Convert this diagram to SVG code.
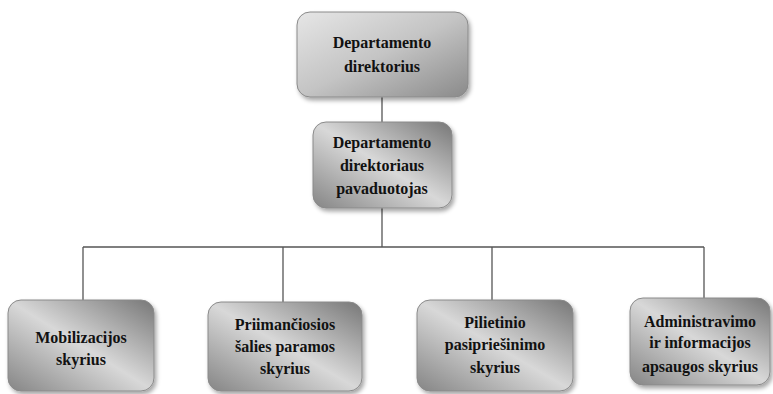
<svg xmlns="http://www.w3.org/2000/svg" width="773" height="394" viewBox="0 0 773 394">
<defs>
<linearGradient id="gTop" x1="0" y1="0" x2="1" y2="1">
<stop offset="0" stop-color="#e6e6e6"/>
<stop offset="0.5" stop-color="#c4c4c4"/>
<stop offset="1" stop-color="#8a8a8a"/>
</linearGradient>
<linearGradient id="gBox" x1="0" y1="1" x2="1" y2="0">
<stop offset="0" stop-color="#858585"/>
<stop offset="0.5" stop-color="#d8d8d8"/>
<stop offset="1" stop-color="#777"/>
</linearGradient>
<filter id="sh" x="-10%" y="-10%" width="125%" height="130%">
<feDropShadow dx="2" dy="3" stdDeviation="2" flood-color="#000" flood-opacity="0.35"/>
</filter>
</defs>
<style>
.box{stroke:#8a8a8a;stroke-width:1;filter:url(#sh)}
.t{font-family:"Liberation Serif","Times New Roman",serif;font-weight:bold;font-size:16px;fill:#111;text-anchor:middle}
.c{stroke:#555;stroke-width:1.3;fill:none}
</style>
<g id="connectors">
<line class="c" x1="382" y1="97" x2="382" y2="122"/>
<line class="c" x1="382" y1="208" x2="382" y2="247"/>
<line class="c" x1="83" y1="247" x2="704" y2="247"/>
<line class="c" x1="83" y1="247" x2="83" y2="300"/>
<line class="c" x1="283" y1="247" x2="283" y2="302"/>
<line class="c" x1="492" y1="247" x2="492" y2="300"/>
<line class="c" x1="704" y1="247" x2="704" y2="298"/>
</g>
<g id="n1">
<rect class="box" x="297" y="12" width="171" height="85" rx="13" fill="url(#gTop)"/>
<text class="t" x="382" y="48">Departamento</text>
<text class="t" x="382" y="72">direktorius</text>
</g>
<g id="n2">
<rect class="box" x="313" y="122" width="139" height="86" rx="13" fill="url(#gBox)"/>
<text class="t" x="382" y="148">Departamento</text>
<text class="t" x="382" y="171">direktoriaus</text>
<text class="t" x="382" y="194">pavaduotojas</text>
</g>
<g id="n3">
<rect class="box" x="8" y="300" width="146" height="91" rx="13" fill="url(#gBox)"/>
<text class="t" x="81" y="343">Mobilizacijos</text>
<text class="t" x="81" y="365">skyrius</text>
</g>
<g id="n4">
<rect class="box" x="208" y="302" width="154" height="89" rx="13" fill="url(#gBox)"/>
<text class="t" x="285" y="330">Priimančiosios</text>
<text class="t" x="285" y="352">šalies paramos</text>
<text class="t" x="285" y="374">skyrius</text>
</g>
<g id="n5">
<rect class="box" x="417" y="300" width="156" height="91" rx="13" fill="url(#gBox)"/>
<text class="t" x="495" y="328">Pilietinio</text>
<text class="t" x="495" y="350">pasipriešinimo</text>
<text class="t" x="495" y="373">skyrius</text>
</g>
<g id="n6">
<rect class="box" x="630" y="298" width="140" height="87" rx="13" fill="url(#gBox)"/>
<text class="t" x="700" y="327">Administravimo</text>
<text class="t" x="700" y="348">ir informacijos</text>
<text class="t" x="700" y="372">apsaugos skyrius</text>
</g>
</svg>
